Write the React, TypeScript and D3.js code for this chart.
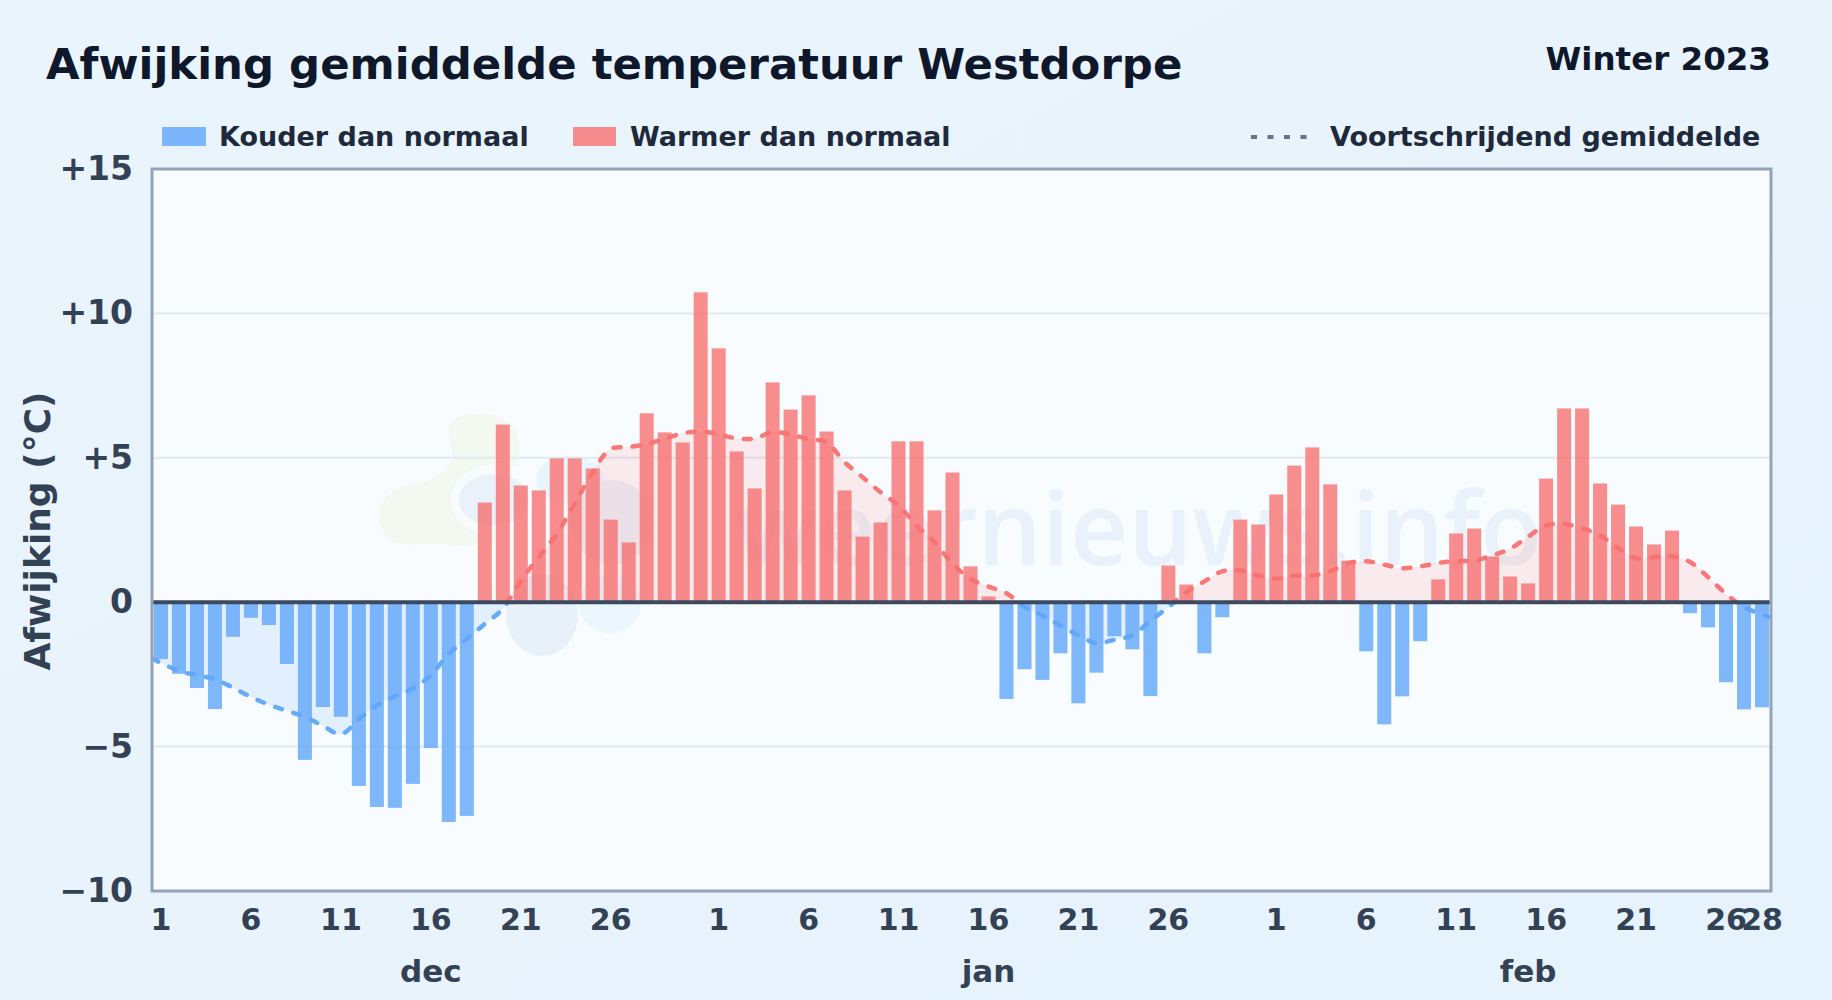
import React, { useEffect, useRef } from 'react';
import * as d3 from 'd3';

const WIDTH = 1832;
const HEIGHT = 1000;

const months = ['dec', 'jan', 'feb'];
const monthLengths = [31, 31, 28];
const monthLabelDays = [16, 16, 15];
const tickDays = [
  [1, 6, 11, 16, 21, 26],
  [1, 6, 11, 16, 21, 26],
  [1, 6, 11, 16, 21, 26, 28],
];
const yTicks = [-10, -5, 0, 5, 10, 15];

// afwijking per dag
const decValues = [
  -1.97, -2.48, -2.97, -3.7, -1.2, -0.54, -0.79, -2.14, -5.46, -3.63, -3.97, -6.36, -7.09, -7.12, -6.29, -5.05,
  -7.61, -7.4, 3.45, 6.15, 4.04, 3.87, 4.98, 4.98, 4.63, 2.86, 2.07, 6.54, 5.88, 5.53, 10.73,
];
const janValues = [
  8.79, 5.22, 3.94, 7.61, 6.67, 7.16, 5.91, 3.87, 2.27, 2.76, 5.57, 5.57, 3.18, 4.49, 1.24, 0.2, -3.35, -2.32,
  -2.69, -1.77, -3.5, -2.44, -1.18, -1.63, -3.25, 1.27, 0.61, -1.77, -0.52, 2.86, 2.69,
];
const febValues = [
  3.73, 4.73, 5.36, 4.08, 1.44, -1.7, -4.23, -3.26, -1.35, 0.79, 2.38, 2.55, 1.58, 0.89, 0.65, 4.28, 6.71, 6.71,
  4.11, 3.38, 2.62, 2.0, 2.48, -0.38, -0.87, -2.77, -3.71, -3.64,
];

// voortschrijdend gemiddelde
const decAverage = [
  -1.95, -2.38, -2.53, -2.67, -2.96, -3.28, -3.55, -3.76, -3.97, -4.28, -4.57, -4.06, -3.57, -3.26, -2.99, -2.53,
  -1.79, -1.27, -0.75, -0.23, 0.75, 1.56, 2.37, 3.41, 4.5, 5.31, 5.37, 5.48, 5.66, 5.85, 5.91,
];
const janAverage = [
  5.82, 5.67, 5.67, 5.89, 5.81, 5.65, 5.54, 4.85, 4.33, 3.81, 3.35, 2.66, 2.08, 1.33, 0.81, 0.54, 0.31, -0.17,
  -0.46, -0.81, -1.15, -1.42, -1.3, -1.15, -0.64, -0.17, 0.35, 0.72, 1.07, 1.1, 0.92,
];
const febAverage = [
  0.81, 0.92, 0.92, 1.07, 1.35, 1.42, 1.3, 1.18, 1.24, 1.36, 1.43, 1.44, 1.62, 1.85, 2.27, 2.66, 2.71, 2.56, 2.31,
  1.87, 1.52, 1.56, 1.59, 1.39, 0.87, 0.29, -0.17, -0.52,
];

const values = [...decValues, ...janValues, ...febValues];
const average = [...decAverage, ...janAverage, ...febAverage];
const days = months.flatMap((m, i) => d3.range(1, monthLengths[i] + 1).map(d => `${m}-${d}`));

const FONT = '"DejaVu Sans", sans-serif';
const BLUE = '#60a5fa';
const RED = '#f87171';

const App: React.FC = () => {
  const svgRef = useRef<SVGSVGElement>(null);

  useEffect(() => {
    if (!svgRef.current) return;
    const svg = d3.select(svgRef.current);
    svg.selectAll('*').remove();

    const margin = { top: 169, right: 61, bottom: 109, left: 152 };
    const right = WIDTH - margin.right;
    const bottom = HEIGHT - margin.bottom;

    const x = d3.scaleBand<string>().domain(days).range([margin.left, right]).paddingInner(0.22).paddingOuter(0.11);
    const y = d3.scaleLinear().domain([-10, 15]).range([bottom, margin.top]);
    const cx = (d: string) => (x(d) || 0) + x.bandwidth() / 2;

    const defs = svg.append('defs');
    const bg = defs.append('linearGradient').attr('id', 'bg').attr('x1', 0).attr('y1', 0).attr('x2', 1).attr('y2', 1);
    bg.append('stop').attr('offset', '0%').attr('stop-color', '#eaf4fc');
    bg.append('stop').attr('offset', '100%').attr('stop-color', '#e6f2fc');
    defs.append('clipPath').attr('id', 'above').append('rect')
      .attr('x', margin.left).attr('y', margin.top).attr('width', right - margin.left).attr('height', y(0) - margin.top);
    defs.append('clipPath').attr('id', 'below').append('rect')
      .attr('x', margin.left).attr('y', y(0)).attr('width', right - margin.left).attr('height', bottom - y(0));

    svg.append('rect').attr('width', WIDTH).attr('height', HEIGHT).attr('fill', 'url(#bg)');
    svg.append('rect')
      .attr('x', margin.left).attr('y', margin.top).attr('width', right - margin.left).attr('height', bottom - margin.top)
      .attr('fill', '#f8fcff');

    // watermerk
    const mark = svg.append('g');
    mark.append('path')
      .attr('d', 'M448 430 C446 412 500 405 516 430 C524 452 516 470 505 490 C510 530 490 552 450 545 C425 540 400 552 385 535 C370 510 385 490 410 485 C440 480 450 470 452 455 Z')
      .attr('fill', '#f3f9f0');
    mark.append('ellipse').attr('cx', 497).attr('cy', 500).attr('rx', 46).attr('ry', 36).attr('fill', '#f8fcff');
    mark.append('ellipse').attr('cx', 494).attr('cy', 500).attr('rx', 35).attr('ry', 26).attr('fill', '#e9f1fa');
    mark.append('ellipse').attr('cx', 570).attr('cy', 480).attr('rx', 34).attr('ry', 24).attr('fill', '#e9f5fd');
    mark.append('ellipse').attr('cx', 612).attr('cy', 522).attr('rx', 42).attr('ry', 42).attr('fill', '#eaf1f9');
    mark.append('ellipse').attr('cx', 542).attr('cy', 615).attr('rx', 36).attr('ry', 41).attr('fill', '#e8f1fa');
    mark.append('ellipse').attr('cx', 610).attr('cy', 604).attr('rx', 31).attr('ry', 29).attr('fill', '#ebf6fe');
    mark.append('text')
      .attr('x', 1542).attr('y', 565).attr('text-anchor', 'end')
      .attr('font-family', '"Open Sans", sans-serif').attr('font-size', 101).attr('font-weight', 600).attr('fill', '#e9f2fb')
      .text('weernieuws.info');

    // rasterlijnen
    svg.append('g').selectAll('line')
      .data(yTicks.filter(t => t !== 0 && t !== -10 && t !== 15))
      .join('line')
      .attr('x1', margin.left).attr('x2', right)
      .attr('y1', d => y(d)).attr('y2', d => y(d))
      .attr('stroke', '#e2e8f0').attr('stroke-width', 2);

    const lineX = (i: number) => (i === 0 ? margin.left : i === days.length - 1 ? right - 2 : cx(days[i]));

    const area = d3.area<number>()
      .x((_, i) => lineX(i))
      .y0(y(0))
      .y1(d => y(d))
      .curve(d3.curveCatmullRom);
    const line = d3.line<number>()
      .x((_, i) => lineX(i))
      .y(d => y(d))
      .curve(d3.curveCatmullRom);

    svg.append('path').attr('d', area(average)).attr('fill', RED).attr('opacity', 0.13).attr('clip-path', 'url(#above)');
    svg.append('path').attr('d', area(average)).attr('fill', BLUE).attr('opacity', 0.15).attr('clip-path', 'url(#below)');

    svg.append('g').selectAll('rect')
      .data(values)
      .join('rect')
      .attr('x', (_, i) => x(days[i]) || 0)
      .attr('width', x.bandwidth())
      .attr('y', d => (d > 0 ? y(d) : y(0)))
      .attr('height', d => Math.abs(y(d) - y(0)))
      .attr('fill', d => (d > 0 ? RED : BLUE))
      .attr('opacity', 0.8);

    [['above', RED], ['below', BLUE]].forEach(([clip, color]) => {
      svg.append('path')
        .attr('d', line(average))
        .attr('fill', 'none')
        .attr('stroke', color)
        .attr('stroke-width', 4.5)
        .attr('stroke-dasharray', '7 12')
        .attr('stroke-linecap', 'round')
        .attr('opacity', 0.95)
        .attr('clip-path', `url(#${clip})`);
    });

    // nullijn en kader
    svg.append('line')
      .attr('x1', margin.left).attr('x2', right).attr('y1', y(0)).attr('y2', y(0))
      .attr('stroke', '#3b4a5f').attr('stroke-width', 4);
    svg.append('rect')
      .attr('x', margin.left).attr('y', margin.top).attr('width', right - margin.left).attr('height', bottom - margin.top)
      .attr('fill', 'none').attr('stroke', '#94a3b8').attr('stroke-width', 3);

    // assen
    const yFormat = (d: d3.NumberValue) => {
      const v = +d;
      return v > 0 ? `+${v}` : v < 0 ? `\u2212${-v}` : '0';
    };
    const yAxis = svg.append('g')
      .attr('transform', `translate(${margin.left - 19},0)`)
      .call(d3.axisLeft(y).tickValues(yTicks).tickFormat(yFormat).tickSize(0).tickPadding(0));
    const xTicks = months.flatMap((m, i) => tickDays[i].map(d => `${m}-${d}`));
    const xAxis = svg.append('g')
      .attr('transform', `translate(0,${bottom + 39})`)
      .call(d3.axisBottom(x).tickValues(xTicks).tickFormat(d => d.split('-')[1]).tickSize(0).tickPadding(0));
    [yAxis, xAxis].forEach(a => {
      a.select('.domain').remove();
      a.attr('font-family', FONT).attr('font-weight', 700);
      a.selectAll('text').attr('fill', '#334155');
    });
    yAxis.attr('font-size', 33);
    xAxis.attr('font-size', 30);
    xAxis.selectAll('text').attr('y', 0).attr('dy', 0);

    svg.append('g').selectAll('text')
      .data(months)
      .join('text')
      .attr('x', (d, i) => cx(`${d}-${monthLabelDays[i]}`))
      .attr('y', 982)
      .attr('text-anchor', 'middle')
      .attr('font-family', FONT).attr('font-size', 31).attr('font-weight', 700).attr('fill', '#334155')
      .text(d => d);

    svg.append('text')
      .attr('transform', 'translate(50,531) rotate(-90)')
      .attr('text-anchor', 'middle')
      .attr('font-family', FONT).attr('font-size', 36).attr('font-weight', 700).attr('fill', '#334155')
      .text('Afwijking (°C)');

    // titel
    svg.append('text')
      .attr('x', 46).attr('y', 79)
      .attr('font-family', FONT).attr('font-size', 43.4).attr('font-weight', 700).attr('fill', '#0f172a')
      .text('Afwijking gemiddelde temperatuur Westdorpe');
    svg.append('text')
      .attr('x', 1771).attr('y', 70).attr('text-anchor', 'end')
      .attr('font-family', FONT).attr('font-size', 32.5).attr('font-weight', 700).attr('fill', '#0f172a')
      .text('Winter 2023');

    // legenda
    const legend = svg.append('g')
      .attr('font-family', FONT).attr('font-size', 27).attr('font-weight', 700).attr('fill', '#1e293b');
    legend.append('rect').attr('x', 162).attr('y', 127).attr('width', 44).attr('height', 19).attr('fill', BLUE).attr('opacity', 0.8);
    legend.append('text').attr('x', 219).attr('y', 146).text('Kouder dan normaal');
    legend.append('rect').attr('x', 573).attr('y', 127).attr('width', 43).attr('height', 19).attr('fill', RED).attr('opacity', 0.8);
    legend.append('text').attr('x', 630).attr('y', 146).text('Warmer dan normaal');
    legend.append('line')
      .attr('x1', 1251).attr('x2', 1308).attr('y1', 137).attr('y2', 137)
      .attr('stroke', '#64748b').attr('stroke-width', 4).attr('stroke-dasharray', '6 10.5');
    legend.append('text').attr('x', 1330).attr('y', 146).text('Voortschrijdend gemiddelde');
  }, []);

  return (
    <svg
      ref={svgRef}
      width={WIDTH}
      height={HEIGHT}
      style={{ position: 'absolute', top: 0, left: 0, display: 'block' }}
    />
  );
};

export default App;
